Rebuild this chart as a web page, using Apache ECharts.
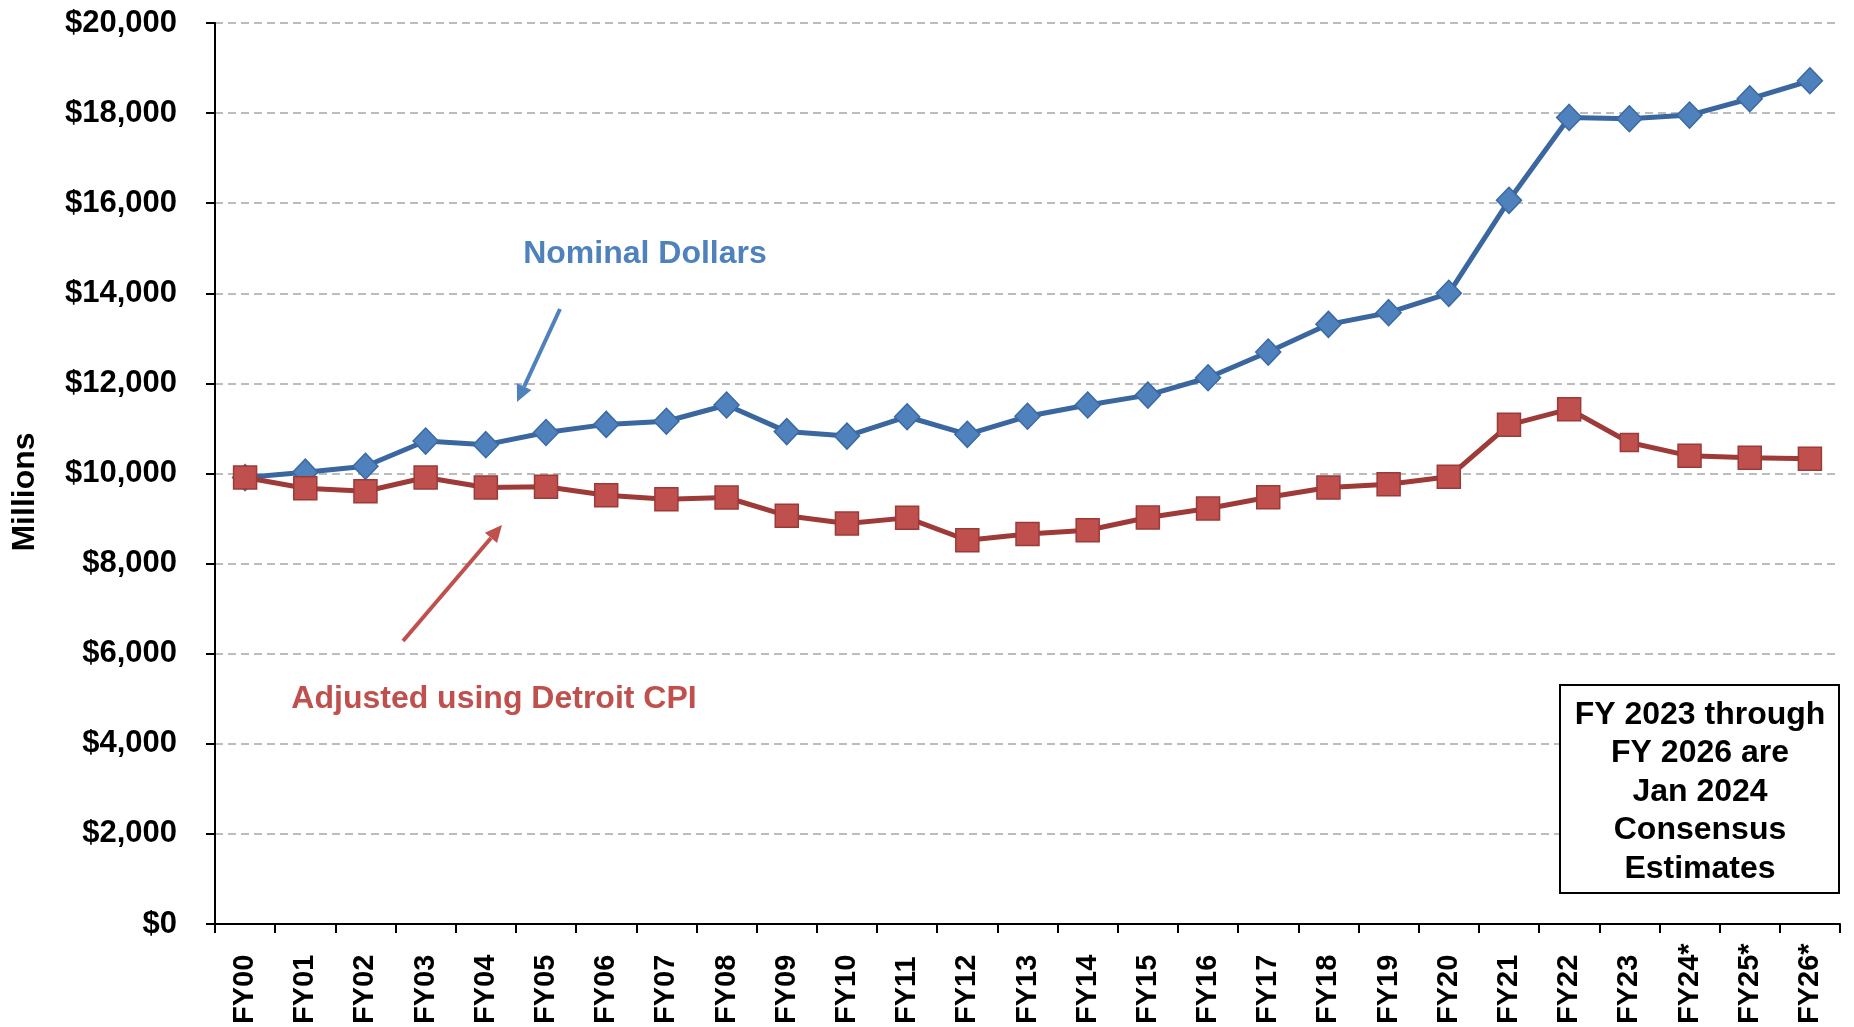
<!DOCTYPE html>
<html>
<head>
<meta charset="utf-8">
<script src="https://cdn.jsdelivr.net/npm/echarts@6/dist/echarts.min.js"></script>
<style>
html,body{margin:0;padding:0;background:#fff;}
#chart{width:1854px;height:1027px;}
</style>
</head>
<body>
<div id="chart"></div>
<script>
const categories = ['FY00','FY01','FY02','FY03','FY04','FY05','FY06','FY07','FY08','FY09','FY10','FY11','FY12','FY13','FY14','FY15','FY16','FY17','FY18','FY19','FY20','FY21','FY22','FY23','FY24*','FY25*','FY26*'];
const nominalDollars = [9910,10030,10160,10720,10640,10910,11090,11160,11520,10930,10830,11260,10870,11270,11520,11740,12126,12696,13311,13570,14000,16064,17904,17874,17956,18318,18718];
const detroitCpiAdjusted = [9911,9674,9607,9911,9689,9704,9519,9430,9467,9063,8889,9015,8519,8659,8741,9022,9222,9474,9689,9763,9926,11080,11428,10688,10392,10348,10326];
const yTicks = {min: 0, max: 20000, interval: 2000};
const labelNominal = 'Nominal Dollars';
const labelReal = 'Adjusted using Detroit CPI';
const noteText = 'FY 2023 through\nFY 2026 are\nJan 2024\nConsensus\nEstimates';
const yTitle = 'Millions';

const FONT = "'Liberation Sans', Arial, sans-serif";

function arrow(x1, y1, x2, y2, color) {
  const dx = x2 - x1, dy = y2 - y1;
  const len = Math.sqrt(dx*dx + dy*dy);
  const ux = dx/len, uy = dy/len;
  const hl = 17, hw = 8;
  const bx = x2 - hl*ux, by = y2 - hl*uy;
  const px = -uy, py = ux;
  return [
    {type:'line', z:100, shape:{x1:x1, y1:y1, x2:bx, y2:by}, style:{stroke:color, lineWidth:4}},
    {type:'polygon', z:100, shape:{points:[[x2,y2],[bx+hw*px, by+hw*py],[bx-hw*px, by-hw*py]]}, style:{fill:color}}
  ];
}

const chart = echarts.init(document.getElementById('chart'), null, {renderer:'canvas'});
const option = {
  animation: false,
  backgroundColor: '#ffffff',
  textStyle: {fontFamily: FONT},
  grid: {left: 215, right: 14, top: 23, bottom: 103, containLabel: false},
  xAxis: {
    type: 'category',
    data: categories,
    boundaryGap: true,
    axisLine: {lineStyle: {color: '#000', width: 2}},
    axisTick: {show: true, alignWithLabel: false, length: 9, lineStyle: {color: '#000', width: 2}},
    axisLabel: {
      interval: 0, rotate: 90, align: 'left', margin: 100,
      color: '#000', fontSize: 29, fontWeight: 'bold', fontFamily: FONT
    },
    splitLine: {show: false}
  },
  yAxis: {
    type: 'value',
    min: yTicks.min, max: yTicks.max, interval: yTicks.interval,
    axisLine: {show: true, lineStyle: {color: '#000', width: 2}},
    axisTick: {show: true, length: 9, lineStyle: {color: '#000', width: 2}},
    axisLabel: {
      margin: 38, color: '#000', fontSize: 31, fontWeight: 'bold', fontFamily: FONT,
      formatter: v => '$' + v.toLocaleString('en-US')
    },
    splitLine: {show: true, lineStyle: {color: '#a6a6a6', width: 1.5, type: [8, 5]}}
  },
  series: [
    {
      name: labelNominal,
      type: 'line',
      data: nominalDollars,
      symbol: 'diamond',
      symbolSize: [25, 26],
      lineStyle: {color: '#3a67a0', width: 5},
      itemStyle: {color: '#4f81bd', borderColor: '#3b69a3', borderWidth: 1.5},
      z: 3
    },
    {
      name: labelReal,
      type: 'line',
      data: detroitCpiAdjusted.map((v, i) => i === 23 ? {value: v, symbolSize: 18} : v),
      symbol: 'rect',
      symbolSize: 23,
      lineStyle: {color: '#9e3b39', width: 5},
      itemStyle: {color: '#c0504d', borderColor: '#9b3b38', borderWidth: 1.5},
      z: 4
    }
  ],
  graphic: [
    {type:'text', z:100, x:25, y:492, rotation: Math.PI/2,
     style:{text: yTitle, font: "bold 32px " + FONT, fill:'#000', align:'center', verticalAlign:'middle'}},
    {type:'text', z:100, x:645, y:254,
     style:{text: labelNominal, font: "bold 32px " + FONT, fill:'#4f81bd', align:'center', verticalAlign:'middle'}},
    {type:'text', z:100, x:494, y:699,
     style:{text: labelReal, font: "bold 32px " + FONT, fill:'#c0504d', align:'center', verticalAlign:'middle'}},
    ...arrow(560, 309, 517, 402, '#4f81bd'),
    ...arrow(403, 641, 502, 525, '#c0504d'),
    {type:'rect', z:100, shape:{x:1560, y:685, width:279, height:208},
     style:{fill:'#fff', stroke:'#000', lineWidth:2}},
    {type:'text', z:101, x:1700, y:792,
     style:{text: noteText, font: "bold 32px " + FONT, fill:'#000', align:'center', verticalAlign:'middle', lineHeight:38.5}}
  ]
};
chart.setOption(option);
</script>
</body>
</html>
